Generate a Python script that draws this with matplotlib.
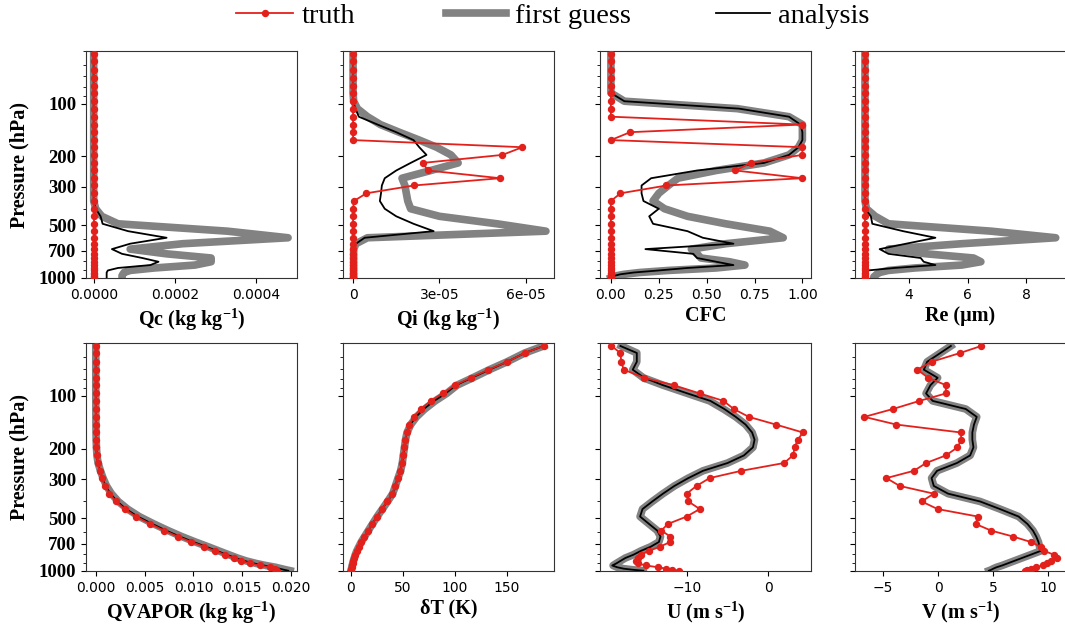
import numpy as np
import matplotlib
matplotlib.use("Agg")
import matplotlib.pyplot as plt
from matplotlib.lines import Line2D
from matplotlib.ticker import FixedLocator, FixedFormatter, NullFormatter

plt.rcParams["mathtext.fontset"] = "custom"
plt.rcParams["mathtext.rm"] = "Liberation Serif"
plt.rcParams["mathtext.bf"] = "Liberation Serif:bold"

SERIF = "Liberation Serif"
RED = "#e3211c"
GRAY = "#828282"

# model levels (hPa)
pres = [52, 57, 64, 71, 79, 87, 97, 107, 119, 132, 146, 162, 178, 197, 219, 242, 268, 295, 327, 362,
        401, 443, 489, 539, 588, 636, 683, 727, 768, 807, 843, 876, 905, 930, 952, 970, 985, 996]

# Qc, units of 1e-4 kg/kg
qc_truth = [0, 0, 0, 0, 0, 0, 0, 0, 0, 0, 0, 0, 0, 0, 0, 0, 0, 0, 0, 0,
            0, 0, 0, 0, 0, 0, 0, 0, 0, 0, 0, 0, 0, 0, 0, 0, 0, 0]
qc_fg = [0, 0, 0, 0, 0, 0, 0, 0, 0, 0, 0, 0, 0, 0, 0, 0, 0, 0, 0, 0,
         0.05, 0.2, 0.6, 3.3, 4.8, 2.2, 0.9, 1.8, 2.9, 2.9, 2.5, 1.5, 0.9, 0.75, 0.72, 0.7, 0.7, 0.7]
qc_an = [0, 0, 0, 0, 0, 0, 0, 0, 0, 0, 0, 0, 0, 0, 0, 0, 0, 0, 0, 0,
         0.05, 0.17, 0.22, 0.85, 1.8, 0.9, 0.45, 0.7, 1.2, 1.6, 1.4, 0.6, 0.35, 0.32, 0.32, 0.32, 0.32, 0.32]

# Qi, units of 1e-5 kg/kg
qi_truth = [0, 0, 0, 0, 0, 0, 0, 0, 0, 0, 0, 0, 5.88, 5.19, 2.42, 2.6, 5.11, 2.11, 0.46, 0.03,
            0, 0, 0, 0, 0, 0, 0, 0, 0, 0, 0, 0, 0, 0, 0, 0, 0, 0]
qi_fg = [0, 0, 0, 0, 0, 0, 0.02, 0.15, 0.5, 0.95, 1.6, 2.3, 2.9, 3.4, 3.65, 2.7, 1.7, 1.8, 1.85, 1.9,
         2.0, 3.0, 5.0, 6.7, 0.5, 0.1, 0.02, 0.02, 0.02, 0.02, 0.02, 0.02, 0.02, 0.02, 0.02, 0.02, 0.02, 0.02]
qi_an = [0, 0, 0, 0, 0, 0, 0, 0.08, 0.2, 0.85, 1.5, 2.1, 2.3, 2.55, 2.0, 1.5, 1.1, 1.0, 0.97, 0.93,
         1.1, 1.5, 2.1, 2.8, 0.4, 0.1, 0.03, 0.03, 0.03, 0.03, 0.03, 0.03, 0.03, 0.03, 0.03, 0.03, 0.03, 0.03]

# cloud fraction
cfc_truth = [0, 0, 0, 0, 0, 0, 0, 0, 0, 1.0, 0.1, 0, 1.0, 1.0, 0.73, 0.65, 1.0, 0.29, 0.05, 0,
             0, 0, 0, 0, 0, 0, 0, 0, 0, 0, 0, 0, 0, 0, 0, 0, 0, 0]
cfc_fg = [0, 0, 0, 0, 0, 0, 0.07, 0.66, 0.93, 1.0, 1.0, 1.0, 0.98, 0.93, 0.8, 0.55, 0.35, 0.3, 0.25, 0.22,
          0.28, 0.4, 0.6, 0.83, 0.9, 0.6, 0.42, 0.45, 0.47, 0.62, 0.7, 0.55, 0.3, 0.15, 0.07, 0.03, 0.01, 0]
cfc_an = [0, 0, 0, 0, 0, 0, 0.07, 0.67, 0.93, 0.99, 1.0, 1.0, 0.98, 0.93, 0.8, 0.45, 0.21, 0.16, 0.16, 0.17,
          0.25, 0.2, 0.22, 0.4, 0.48, 0.64, 0.18, 0.43, 0.45, 0.55, 0.64, 0.4, 0.25, 0.12, 0.05, 0.02, 0.01, 0]

# effective radius (um)
re_truth = [2.5, 2.5, 2.5, 2.5, 2.5, 2.5, 2.5, 2.5, 2.5, 2.5, 2.5, 2.5, 2.5, 2.5, 2.5, 2.5, 2.5, 2.5, 2.5,
            2.5, 2.5, 2.5, 2.5, 2.5, 2.5, 2.5, 2.5, 2.5, 2.5, 2.5, 2.5, 2.5, 2.5, 2.5, 2.5, 2.5, 2.5, 2.5]
re_fg = [2.5, 2.5, 2.5, 2.5, 2.5, 2.5, 2.5, 2.5, 2.5, 2.5, 2.5, 2.5, 2.5, 2.5, 2.5, 2.5, 2.5, 2.5, 2.5, 2.5,
         2.55, 2.85, 3.3, 6.8, 9.0, 5.8, 3.3, 4.6, 6.2, 6.45, 5.8, 4.2, 3.3, 3.0, 2.9, 2.85, 2.8, 2.8]
re_an = [2.5, 2.5, 2.5, 2.5, 2.5, 2.5, 2.5, 2.5, 2.5, 2.5, 2.5, 2.5, 2.5, 2.5, 2.5, 2.5, 2.5, 2.5, 2.5, 2.5,
         2.5, 2.7, 2.75, 3.8, 4.9, 3.9, 3.0, 3.3, 4.4, 4.5, 4.9, 3.5, 2.6, 2.5, 2.5, 2.5, 2.5, 2.5]

# water vapour, units of 1e-3 kg/kg
qv_truth = [0.002, 0.002, 0.002, 0.002, 0.003, 0.003, 0.004, 0.005, 0.007, 0.01, 0.015, 0.02, 0.03, 0.05,
            0.09, 0.18, 0.4, 0.62, 0.92, 1.4, 2.05, 2.95, 4.1, 5.6, 7.0, 8.4, 9.8, 11.1, 12.2, 13.2, 14.1,
            14.9, 15.8, 16.8, 17.8, 18.3, 18.5, 18.6]
qv_fg = [0.002, 0.002, 0.002, 0.002, 0.003, 0.003, 0.004, 0.005, 0.008, 0.012, 0.018, 0.025, 0.04, 0.07,
         0.12, 0.24, 0.48, 0.75, 1.1, 1.6, 2.3, 3.25, 4.45, 5.95, 7.4, 8.8, 10.2, 11.5, 12.6, 13.6, 14.5,
         15.4, 16.4, 17.4, 18.4, 19.0, 19.5, 19.9]
qv_an = [0.002, 0.002, 0.002, 0.002, 0.003, 0.003, 0.004, 0.005, 0.008, 0.011, 0.016, 0.022, 0.035, 0.06,
         0.1, 0.21, 0.44, 0.68, 1.0, 1.5, 2.2, 3.1, 4.3, 5.8, 7.2, 8.6, 10.0, 11.3, 12.4, 13.4, 14.3,
         15.2, 16.2, 17.2, 18.2, 18.8, 19.3, 19.7]

# temperature increment (K)
dt_truth = [185, 167, 150, 132, 115, 100, 88, 77, 67, 60.5, 56, 53.5, 52.3, 51.3, 50.2, 49.2, 47.5, 45, 42.5,
            40, 35, 30, 25, 20.5, 16.5, 13, 9.8, 7.5, 5.5, 4.2, 3.2, 2.3, 1.7, 1.2, 0.8, 0.5, 0.2, 0.0]
dt_fg = [185, 167, 150, 133, 117, 102, 92, 81, 71, 63, 57.5, 54, 52.5, 51.5, 50.4, 49.4, 47.8, 45.3, 42.8,
         40.2, 35.3, 30.3, 25.3, 20.8, 16.8, 13.2, 10, 7.7, 5.7, 4.3, 3.3, 2.4, 1.8, 1.3, 0.9, 0.6, 0.3, 0.1]
dt_an = [185, 167, 150, 133, 116, 101, 91, 80, 70, 62.5, 57, 53.8, 52.4, 51.4, 50.3, 49.3, 47.6, 45.1, 42.6,
         40.1, 35.1, 30.1, 25.1, 20.6, 16.6, 13.1, 9.9, 7.6, 5.6, 4.2, 3.2, 2.3, 1.7, 1.2, 0.8, 0.5, 0.2, 0.0]

# zonal wind (m/s)
u_truth = [-19.2, -18.1, -18.0, -17.7, -15.2, -11.6, -8.4, -5.5, -4.25, -2.4, 0.9, 4.2, 3.6, 3.2, 3.0, 1.9,
           -3.3, -7.2, -8.8, -10.0, -9.8, -8.4, -10.0, -12.3, -13.1, -12.0, -12.0, -13.3, -14.6, -15.6,
           -16.0, -16.2, -16.0, -15.0, -13.5, -12.5, -11.8, -11.0]
u_fg = [-18.0, -16.1, -16.1, -16.6, -15.3, -12.9, -9.9, -7.2, -5.5, -4.0, -2.8, -2.0, -1.7, -1.9, -3.0, -5.0,
        -8.0, -9.8, -11.5, -12.9, -14.2, -15.4, -15.7, -14.6, -13.6, -13.2, -13.4, -14.4, -15.6, -16.5,
        -17.5, -18.1, -18.6, -19.0, -18.5, -17.7, -16.5, -15.3]
u_an = [-18.1, -16.1, -16.1, -16.6, -15.2, -12.9, -9.9, -7.1, -5.4, -4.0, -2.8, -2.0, -1.7, -1.9, -3.0, -5.0,
        -8.0, -9.8, -11.5, -12.9, -14.2, -15.4, -15.7, -14.6, -13.6, -13.2, -13.4, -14.4, -15.6, -16.5,
        -17.5, -18.1, -18.6, -19.1, -18.5, -17.7, -16.5, -15.3]

# meridional wind (m/s)
v_truth = [3.9, 2.0, -0.6, -1.9, -0.9, 0.7, 0.7, -1.7, -4.1, -6.7, -3.8, 2.05, 2.1, 1.75, 0.7, -1.1, -2.2,
           -4.7, -3.5, -0.4, -1.5, -0.06, 3.6, 3.4, 4.8, 6.8, 8.4, 9.3, 9.6, 10.5, 10.8, 10.2, 9.9, 9.5,
           8.9, 8.4, 8.1, 7.9]
v_fg = [1.15, 0.2, -1.0, -1.3, -0.05, -0.7, -1.1, -0.5, 2.5, 3.5, 3.25, 3.1, 3.1, 3.2, 2.9, 1.7, -0.1, -0.6,
        -0.4, 0.9, 3.8, 5.6, 7.3, 8.1, 8.6, 8.9, 9.1, 9.2, 9.3, 8.4, 7.6, 6.9, 6.3, 5.8, 5.3, 5.0, 4.8, 4.6]
v_an = [1.15, 0.2, -1.0, -1.3, -0.05, -0.7, -1.1, -0.5, 2.5, 3.5, 3.25, 3.1, 3.1, 3.2, 2.9, 1.7, -0.1, -0.6,
        -0.4, 0.9, 3.8, 5.6, 7.3, 8.1, 8.6, 8.9, 9.1, 9.2, 9.3, 8.4, 7.6, 6.9, 6.3, 5.8, 5.3, 5.0, 4.8, 4.6]

panels = [
    # truth, fg, an, scale, xlim, xticks, xticklabels, xlabel
    (qc_truth, qc_fg, qc_an, 1e-4, (-0.19e-4, 5.02e-4), [0, 2e-4, 4e-4], ["0.0000", "0.0002", "0.0004"],
     r"Qc (kg kg$^{\mathbf{-1}}$)"),
    (qi_truth, qi_fg, qi_an, 1e-5, (-0.35e-5, 6.98e-5), [0, 3e-5, 6e-5], ["0", "3e-05", "6e-05"],
     r"Qi (kg kg$^{\mathbf{-1}}$)"),
    (cfc_truth, cfc_fg, cfc_an, 1.0, (-0.057, 1.045), [0, 0.25, 0.5, 0.75, 1.0],
     ["0.00", "0.25", "0.50", "0.75", "1.00"], "CFC"),
    (re_truth, re_fg, re_an, 1.0, (2.16, 9.35), [4, 6, 8], ["4", "6", "8"], "Re (μm)"),
    (qv_truth, qv_fg, qv_an, 1e-3, (-1.0e-3, 20.6e-3), [0, 0.005, 0.01, 0.015, 0.02],
     ["0.000", "0.005", "0.010", "0.015", "0.020"], r"QVAPOR (kg kg$^{\mathbf{-1}}$)"),
    (dt_truth, dt_fg, dt_an, 1.0, (-7.5, 195), [0, 50, 100, 150], ["0", "50", "100", "150"], "δT (K)"),
    (u_truth, u_fg, u_an, 1.0, (-20.6, 5.2), [-10, 0], ["\u221210", "0"], r"U (m s$^{\mathbf{-1}}$)"),
    (v_truth, v_fg, v_an, 1.0, (-7.55, 11.6), [-5, 0, 5, 10], ["\u22125", "0", "5", "10"],
     r"V (m s$^{\mathbf{-1}}$)"),
]

W, H = 1065, 628
fig = plt.figure(figsize=(W / 100, H / 100), dpi=100)

lefts = [86, 343, 600, 855]
rows = [(51, 278), (343, 571)]
ymajor = [100, 200, 300, 500, 700, 1000]

for i, (tr, fg, an, sc, xlim, xt, xtl, xlab) in enumerate(panels):
    r, c = divmod(i, 4)
    top, bot = rows[r]
    ax = fig.add_axes([lefts[c] / W, 1 - bot / H, 211 / W, (bot - top) / H])
    ax.plot(np.array(fg) * sc, pres, color=GRAY, lw=5.5, zorder=1)
    ax.plot(np.array(an) * sc, pres, color="black", lw=1.3, zorder=2)
    ax.plot(np.array(tr) * sc, pres, color=RED, lw=1.3, marker="o", ms=4.3, zorder=3)

    ax.set_yscale("log")
    ax.set_ylim(1000, 50)
    ax.set_xlim(*xlim)
    ax.yaxis.set_major_locator(FixedLocator(ymajor))
    ax.yaxis.set_minor_formatter(NullFormatter())
    if c == 0:
        ax.yaxis.set_major_formatter(FixedFormatter([str(v) for v in ymajor]))
        for lab in ax.get_yticklabels():
            lab.set_fontfamily(SERIF)
            lab.set_fontweight("bold")
            lab.set_fontsize(13.5)
        ax.set_ylabel("Pressure (hPa)", fontfamily=SERIF, fontweight="bold", fontsize=14.5, labelpad=7)
    else:
        ax.yaxis.set_major_formatter(NullFormatter())

    ax.set_xticks(xt)
    ax.set_xticklabels(xtl, fontsize=10)
    ax.set_xlabel(xlab, fontfamily=SERIF, fontweight="bold", fontsize=14.5, labelpad=3)
    for sp in ax.spines.values():
        sp.set_color("#333333")

# legend, one entry per block like the reference
items = [
    (Line2D([], [], color=RED, lw=1.3, marker="o", ms=4.3), "truth", 0.222, 2.0),
    (Line2D([], [], color=GRAY, lw=5.5), "first guess", 0.419, 2.1),
    (Line2D([], [], color="black", lw=1.3), "analysis", 0.672, 1.9),
]
for h, lab, x, hl in items:
    fig.legend([h], [lab], loc="center left", bbox_to_anchor=(x, 0.975), frameon=False,
               prop={"family": SERIF, "size": 20.5}, handlelength=hl, handletextpad=0.3,
               borderpad=0, borderaxespad=0)

fig.savefig("out.png", dpi=100)
